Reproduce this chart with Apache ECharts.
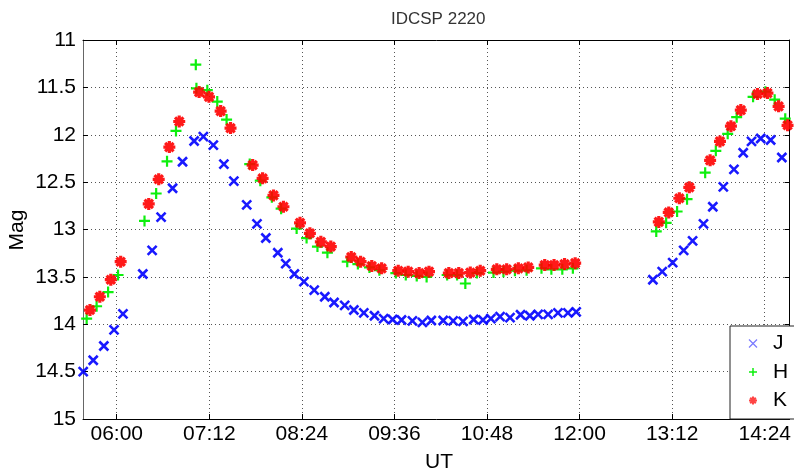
<!DOCTYPE html>
<html>
<head>
<meta charset="utf-8">
<title>IDCSP 2220</title>
<script src="https://cdn.jsdelivr.net/npm/echarts@6/dist/echarts.min.js"></script>
<style>
  html, body { margin: 0; padding: 0; background: #fff; }
  #chart { width: 794px; height: 472px; }
</style>
</head>
<body>
<div id="chart"></div>
<script>
// UT in decimal hours, magnitudes per band
const jTime = [5.565, 5.695, 5.833, 5.965, 6.081, 6.338, 6.459, 6.575, 6.724, 6.853,
  7.003, 7.123, 7.252, 7.389, 7.518, 7.685, 7.818, 7.933, 8.088, 8.191,
  8.303, 8.427, 8.560, 8.697, 8.817, 8.955, 9.074, 9.203, 9.341, 9.460,
  9.576, 9.692, 9.833, 9.962, 10.078, 10.232, 10.361, 10.489, 10.627, 10.747,
  10.850, 10.969, 11.098, 11.235, 11.355, 11.463, 11.592, 11.720, 11.849, 11.956,
  12.950, 13.071, 13.207, 13.349, 13.465, 13.606, 13.727, 13.863, 14.001, 14.121,
  14.229, 14.348, 14.477, 14.622];
const jMag = [14.50, 14.38, 14.23, 14.06, 13.89, 13.47, 13.22, 12.87, 12.565, 12.285,
  12.066, 12.02, 12.11, 12.31, 12.49, 12.74, 12.94, 13.09, 13.245, 13.36,
  13.47, 13.55, 13.64, 13.71, 13.77, 13.80, 13.85, 13.88, 13.91, 13.94,
  13.95, 13.955, 13.965, 13.98, 13.96, 13.96, 13.965, 13.97, 13.95, 13.955,
  13.94, 13.92, 13.93, 13.90, 13.91, 13.895, 13.895, 13.88, 13.88, 13.87,
  13.53, 13.445, 13.35, 13.22, 13.12, 12.94, 12.76, 12.55, 12.365, 12.19,
  12.07, 12.04, 12.055, 12.24];

const hTime = [5.610, 5.739, 5.888, 6.017, 6.360, 6.511, 6.652, 6.768, 7.025, 7.033,
  7.174, 7.303, 7.424, 7.724, 7.861, 8.011, 8.131, 8.332, 8.461, 8.602,
  8.731, 8.988, 9.126, 9.276, 9.405, 9.618, 9.747, 9.889, 10.017, 10.283,
  10.412, 10.519, 10.669, 10.884, 11.013, 11.162, 11.313, 11.506, 11.634, 11.776,
  11.913, 12.994, 13.122, 13.264, 13.393, 13.628, 13.766, 13.920, 14.036, 14.249,
  14.409, 14.529, 14.666];
const hMag = [13.94, 13.81, 13.66, 13.48, 12.91, 12.62, 12.28, 11.96, 11.26, 11.51,
  11.53, 11.65, 11.84, 12.31, 12.485, 12.66, 12.78, 12.99, 13.09, 13.18,
  13.245, 13.34, 13.365, 13.40, 13.43, 13.46, 13.48, 13.49, 13.50, 13.48,
  13.48, 13.57, 13.46, 13.455, 13.445, 13.435, 13.43, 13.41, 13.42, 13.42,
  13.41, 13.02, 12.93, 12.81, 12.68, 12.40, 12.17, 11.99, 11.815, 11.60,
  11.545, 11.63, 11.83];

const kTime = [5.653, 5.781, 5.923, 6.051, 6.415, 6.544, 6.682, 6.810, 7.068, 7.196,
  7.347, 7.475, 7.762, 7.891, 8.032, 8.161, 8.376, 8.504, 8.646, 8.775,
  9.040, 9.161, 9.306, 9.434, 9.649, 9.778, 9.920, 10.048, 10.305, 10.434,
  10.583, 10.712, 10.927, 11.055, 11.206, 11.334, 11.548, 11.669, 11.805, 11.943,
  13.027, 13.156, 13.293, 13.422, 13.692, 13.820, 13.962, 14.090, 14.306, 14.435,
  14.580, 14.696];
const kMag = [13.85, 13.71, 13.53, 13.34, 12.73, 12.47, 12.13, 11.86, 11.55, 11.60,
  11.75, 11.93, 12.32, 12.46, 12.64, 12.76, 12.93, 13.04, 13.13, 13.18,
  13.29, 13.34, 13.385, 13.41, 13.435, 13.445, 13.46, 13.445, 13.46, 13.46,
  13.455, 13.435, 13.42, 13.42, 13.41, 13.40, 13.375, 13.375, 13.365, 13.355,
  12.92, 12.82, 12.67, 12.555, 12.27, 12.07, 11.91, 11.74, 11.57, 11.56,
  11.70, 11.90];

// time axis ticks (hours) and their labels
const tickHours = [6, 7.2, 8.4, 9.6, 10.8, 12, 13.2, 14.4];
const tickLabels = ['06:00', '07:12', '08:24', '09:36', '10:48', '12:00', '13:12', '14:24'];
const magTicks = [11, 11.5, 12, 12.5, 13, 13.5, 14, 14.5, 15];

const timeMin = 5.5627, timeMax = 14.7216;
const font = 'Liberation Sans, Arial, Helvetica, sans-serif';

const pairs = (t, m) => t.map((v, i) => [v, m[i]]);

// marker shapes: cross, plus, asterisk
const SYM_X = 'path://M0,0L10,10M0,10L10,0';
const SYM_PLUS = 'path://M5,0L5,10M0,5L10,5';
const SYM_STAR = 'path://M5,0L5,10M0,5L10,5M1.5,1.5L8.5,8.5M1.5,8.5L8.5,1.5';

const tickLabelOf = v => {
  const i = tickHours.findIndex(t => Math.abs(t - v) < 1e-6);
  return i >= 0 ? tickLabels[i] : '';
};

const chart = echarts.init(document.getElementById('chart'), null, { renderer: 'canvas' });

const gridLine = { show: true, lineStyle: { color: '#555', width: 1, type: [1, 3] } };

chart.setOption({
  backgroundColor: '#fff',
  animation: false,
  title: {
    text: 'IDCSP 2220',
    left: 386,
    top: 6,
    textStyle: { fontFamily: font, fontSize: 17, fontWeight: 'normal', color: '#333' }
  },
  grid: { left: 83, top: 40, right: -1, bottom: 53, containLabel: false },
  xAxis: [
    {
      type: 'value', position: 'bottom', min: timeMin, max: timeMax,
      axisLine: { show: true, onZero: false, lineStyle: { color: '#000', width: 1 } },
      axisTick: { show: true, inside: true, length: 5, customValues: tickHours, lineStyle: { color: '#000' } },
      axisLabel: { show: true, customValues: tickHours, formatter: tickLabelOf, margin: 5,
        fontFamily: font, fontSize: 21, color: '#000' },
      splitLine: gridLine
    },
    {
      type: 'value', position: 'top', min: timeMin, max: timeMax,
      axisLine: { show: true, onZero: false, lineStyle: { color: '#000', width: 1 } },
      axisTick: { show: true, inside: true, length: 5, customValues: tickHours, lineStyle: { color: '#000' } },
      axisLabel: { show: false },
      splitLine: { show: false }
    }
  ],
  yAxis: [
    {
      type: 'value', position: 'left', inverse: true, min: 11, max: 15, interval: 0.5,
      axisLine: { show: true, onZero: false, lineStyle: { color: '#666', width: 1 } },
      axisTick: { show: true, inside: true, length: 5, lineStyle: { color: '#000' } },
      axisLabel: { show: true, margin: 7, fontFamily: font, fontSize: 21, color: '#000',
        formatter: v => String(magTicks.find(m => Math.abs(m - v) < 1e-6) ?? v) },
      splitLine: gridLine
    },
    {
      type: 'value', position: 'right', inverse: true, min: 11, max: 15, interval: 0.5,
      axisLine: { show: true, onZero: false, lineStyle: { color: '#000', width: 1 } },
      axisTick: { show: true, inside: true, length: 5, lineStyle: { color: '#000' } },
      axisLabel: { show: false },
      splitLine: { show: false }
    }
  ],
  legend: {
    orient: 'vertical',
    left: 730,
    top: 326,
    padding: [7, 40, 8, 18],
    itemGap: 7.5,
    itemWidth: 8,
    itemHeight: 8,
    backgroundColor: '#fff',
    borderColor: '#222',
    borderWidth: 1,
    borderRadius: 0,
    textStyle: { fontFamily: font, fontSize: 21, color: '#000', lineHeight: 20, padding: [0, 0, 0, 11] },
    data: [
      { name: 'J', icon: SYM_X, itemStyle: { color: '#6a6aff', borderColor: '#6a6aff', borderWidth: 1.2 } },
      { name: 'H', icon: SYM_PLUS, itemStyle: { color: '#00ee00', borderColor: '#00ee00', borderWidth: 1.5 } },
      { name: 'K', icon: SYM_STAR, itemStyle: { color: '#ff3030', borderColor: '#ff3030', borderWidth: 2 } }
    ]
  },
  graphic: [
    {
      type: 'text', x: 439, y: 462,
      style: { text: 'UT', fontFamily: font, fontSize: 21, fill: '#000', textAlign: 'center', textVerticalAlign: 'middle' }
    },
    {
      type: 'text', x: 17, y: 230, rotation: Math.PI / 2,
      style: { text: 'Mag', fontFamily: font, fontSize: 21, fill: '#000', textAlign: 'center', textVerticalAlign: 'middle' }
    }
  ],
  series: [
    {
      name: 'J', type: 'scatter', data: pairs(jTime, jMag),
      symbol: SYM_X, symbolSize: 9,
      itemStyle: { color: '#0000ff', borderColor: '#0000ff', borderWidth: 2.6, opacity: 0.9 }
    },
    {
      name: 'H', type: 'scatter', data: pairs(hTime, hMag),
      symbol: SYM_PLUS, symbolSize: 11,
      itemStyle: { color: '#00ff00', borderColor: '#00ee00', borderWidth: 2.2, opacity: 0.95 }
    },
    {
      name: 'K', type: 'scatter', data: pairs(kTime, kMag),
      symbol: SYM_STAR, symbolSize: 12,
      itemStyle: { color: '#ff0000', borderColor: '#ff0000', borderWidth: 3.2, opacity: 0.9 }
    }
  ]
});
</script>
</body>
</html>
